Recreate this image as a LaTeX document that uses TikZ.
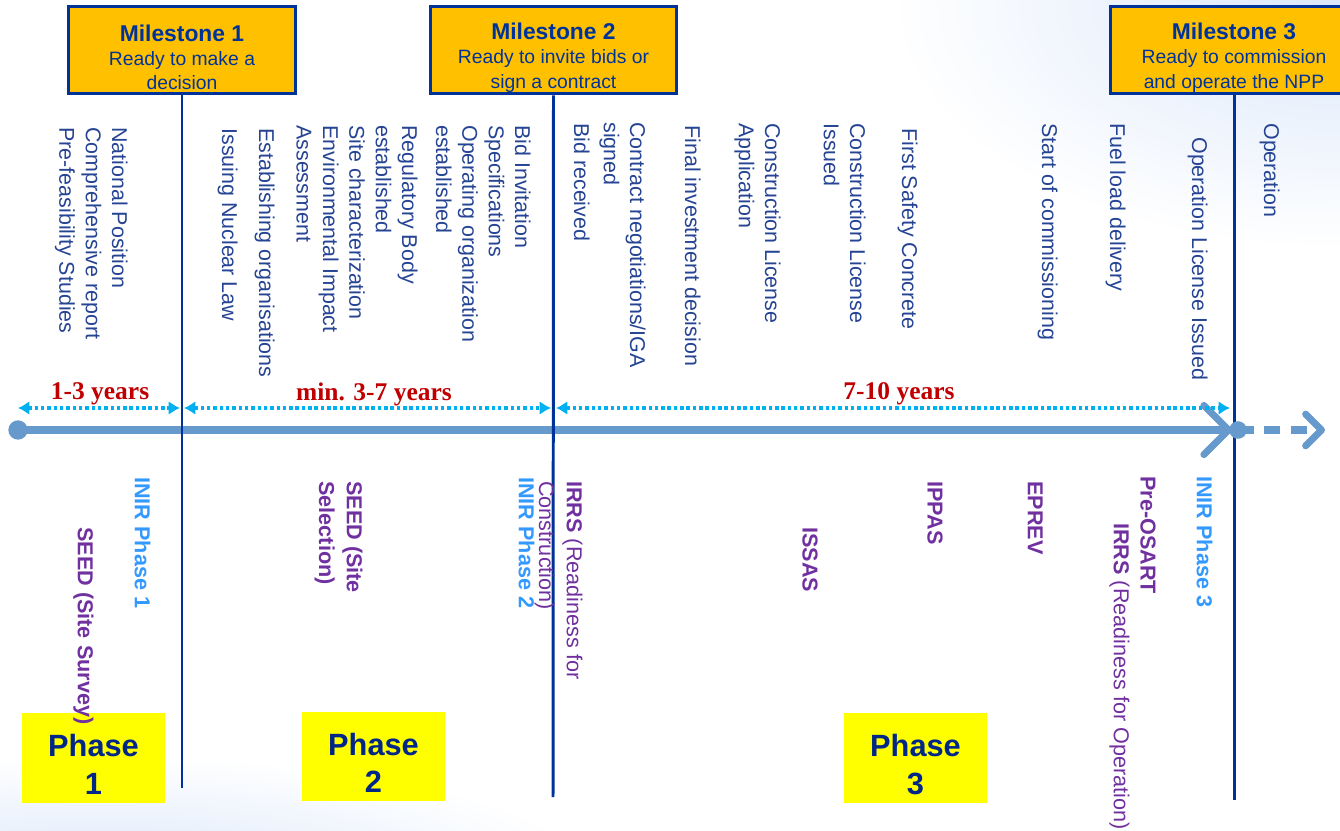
\documentclass[tikz,border=0pt]{standalone}
\usepackage{fontspec}
\setmainfont{Liberation Sans}
\newfontfamily\yearfont{Liberation Serif}
\usepackage{xcolor}
\usepackage{tikz}
\usetikzlibrary{arrows.meta, positioning, shapes.geometric}
\definecolor{navy}{RGB}{0, 51, 153}
\definecolor{amberms}{RGB}{255, 192, 0}
\definecolor{textblue}{RGB}{38, 68, 148}
\definecolor{inirblue}{RGB}{51, 153, 255}
\definecolor{seedpurple}{RGB}{112, 48, 160}
\definecolor{yearred}{RGB}{192, 0, 0}
\definecolor{dotcyan}{RGB}{0, 176, 240}
\definecolor{axisblue}{RGB}{102, 153, 204}
\definecolor{phaseyellow}{RGB}{255, 255, 0}
\definecolor{phasenavy}{RGB}{0, 38, 135}
\definecolor{bgblue}{RGB}{218, 231, 250}

\begin{document}
\begin{tikzpicture}[x=0.02cm, y=-0.02cm,
  ms/.style={rectangle, fill=amberms, draw=navy, line width=1.7pt,
    text=navy, align=center, minimum height=50pt, inner xsep=2pt, inner ysep=0pt,
    font=\fontsize{11pt}{13.8pt}\selectfont},
  msline/.style={navy, line width=1.7pt},
  evt/.style={rotate=-90, anchor=north west, inner sep=0pt, align=left,
    text=textblue, font=\fontsize{12.2pt}{15pt}\selectfont},
  mission/.style={evt, text=seedpurple,
    font=\fontsize{12.3pt}{15.8pt}\selectfont\bfseries},
  inir/.style={mission, text=inirblue},
  phase/.style={rectangle, fill=phaseyellow, text=phasenavy, align=center,
    minimum width=81pt, minimum height=51pt, inner sep=0pt,
    font=\fontsize{17.5pt}{21.5pt}\selectfont\bfseries},
  yrs/.style={text=yearred, font=\yearfont\bfseries\fontsize{14.5pt}{16pt}\selectfont},
  span/.style={<->, >={Latex[length=6.5pt, width=8pt]},
    dotcyan, line width=2pt, dash pattern=on 2pt off 1.6pt},
  axis/.style={axisblue, line width=4pt},
  dot/.style={circle, fill=axisblue, inner sep=0pt, minimum size=11pt}
]
\useasboundingbox (0,0) rectangle (1340,831);
\clip (0,0) rectangle (1340,831);
\fill[white] (0,0) rectangle (1340,831);
\shade[inner color=bgblue, outer color=white] (1340,0) ellipse [x radius=9cm, y radius=5cm];
\shade[inner color=bgblue, outer color=white] (100,880) ellipse [x radius=10cm, y radius=2.5cm];

\node[dot] at (18,  430) (t0) {};
\coordinate (tend) at (1232, 430);
\draw[axis, -{Straight Barb[round, length=14pt, width=28pt]}] (t0.center) -- (tend);
\coordinate (tout) at (1325, 430);

\coordinate (sp0)  at (18,   408);
\coordinate (sp1a) at (180,  408);
\coordinate (sp1b) at (184,  408);
\coordinate (sp2a) at (551,  408);
\coordinate (sp2b) at (556,  408);
\coordinate (sp3)  at (1230, 408);
\draw[span] (sp0)  -- (sp1a);
\draw[span] (sp1b) -- (sp2a);
\draw[span] (sp2b) -- (sp3);
\node[yrs] at (100, 394) (yr1) {1-3 years};
\node[yrs] at (374, 394) (yr2) {min. 3-7 years};
\node[yrs] at (899, 394) (yr3) {7-10 years};

\node[ms, minimum width=129pt] at (182, 50) (ms1)
  {\rule{0pt}{18pt}\textbf{\fontsize{13pt}{14pt}\selectfont Milestone 1}\\Ready to make a\\decision};
\node[ms, minimum width=140pt] at (553.5, 50) (ms2)
  {\rule{0pt}{18pt}\textbf{\fontsize{13pt}{14pt}\selectfont Milestone 2}\\Ready to invite bids or\\sign a contract};
\node[ms, minimum width=140.6pt] at (1234, 50) (ms3)
  {\rule{0pt}{18pt}\textbf{\fontsize{13pt}{14pt}\selectfont Milestone 3}\\Ready to commission\\and operate the NPP};
\coordinate (ms1end) at (182, 788);
\coordinate (ms2end) at (553, 797);
\coordinate (ms3end) at (1234, 800);
\draw[msline] (ms1.south) -- (ms1end);
\draw[msline] (ms2.south) -- (ms2end);
\draw[msline] (ms3.south) -- (ms3end);

\node[dot, minimum size=10pt] at (1238, 430) (t1) {};
\draw[axis, dash pattern=on 9pt off 6pt, -{Straight Barb[round, length=9pt, width=18pt]}]
  (t1.center) -- (tout);

\node[evt] at (128, 127) (natpos) {National Position\\Comprehensive report\\Pre-feasibility Studies};
\node[evt] at (238, 128) (nuclaw) {Issuing Nuclear Law};
\node[evt] at (275, 128) (estorg) {Establishing organisations};
\node[evt] at (418, 125) (regbody) {Regulatory Body\\established\\Site characterization\\Environmental Impact\\Assessment};
\node[evt] at (531, 125) (bidinv) {Bid Invitation\\Specifications\\Operating organization\\established};
\node[evt] at (590, 123) (bidrec) {Bid received};
\node[evt] at (646, 122) (contract) {Contract negotiations/IGA\\signed};
\node[evt] at (701, 125) (fid) {Final investment decision};
\node[evt] at (781, 123) (clapp) {Construction License\\Application};
\node[evt] at (866, 123) (clissue) {Construction License\\Issued};
\node[evt] at (918, 128) (concrete) {First Safety Concrete};
\node[evt] at (1058, 123) (commiss) {Start of commissioning};
\node[evt] at (1126, 123) (fuel) {Fuel load delivery};
\node[evt] at (1208, 137) (oplic) {Operation License Issued};
\node[evt] at (1280, 123) (oper) {Operation};

\node[phase] at (93.5, 758) (ph1) {\rule{0pt}{20pt}Phase\\1};
\node[phase] at (373.5, 756.5) (ph2) {\rule{0pt}{20pt}Phase\\2};
\node[phase] at (915.5, 758) (ph3) {\rule{0pt}{20pt}Phase\\3};

\node[mission] at (94, 527) (seed1) {SEED (Site Survey)};
\node[inir] at (151, 477) (inir1) {INIR Phase 1};
\node[mission] at (363, 481) (seed2) {SEED (Site\\Selection)};
\node[inir] at (535, 477) (inir2) {INIR Phase 2};
\node[mission, font=\fontsize{12.3pt}{15.8pt}\selectfont] at (583, 481) (irrsc)
  {\textbf{IRRS} (Readiness for\\Construction)};
\node[mission] at (818, 527) (issas) {ISSAS};
\node[mission] at (943, 481) (ippas) {IPPAS};
\node[mission] at (1043, 481) (eprev) {EPREV};
\node[mission] at (1156, 476) (osart) {Pre-OSART};
\node[mission, font=\fontsize{12.3pt}{15.8pt}\selectfont] at (1130, 523) (irrso)
  {\textbf{IRRS} (Readiness for Operation)};
\node[inir] at (1213, 476) (inir3) {INIR Phase 3};
\end{tikzpicture}
\end{document}
